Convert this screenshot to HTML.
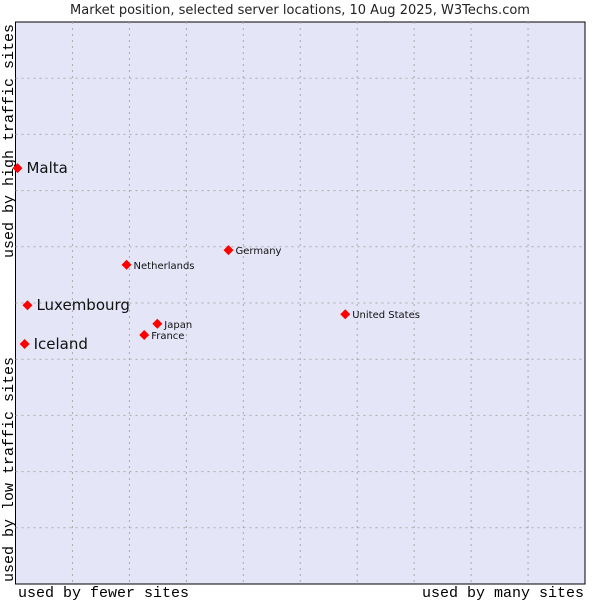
<!DOCTYPE html>
<html><head><meta charset="utf-8"><style>
body{margin:0;background:#fff;width:600px;height:600px;overflow:hidden}
text{font-family:"DejaVu Sans","Liberation Sans",sans-serif}
.mono{font-family:"Liberation Mono","DejaVu Sans Mono",monospace}
</style></head><body>
<svg id="c" width="600" height="600">
<text x="300" y="14" text-anchor="middle" font-size="13" fill="#222">Market position, selected server locations, 10 Aug 2025, W3Techs.com</text>
<rect x="15.5" y="22" width="569.5" height="562" fill="#e5e5f8" stroke="#000" stroke-width="1"/>
<g id="grid"></g>
<g id="pts"></g>
<text class="mono" x="18" y="597" font-size="15" fill="#000">used by fewer sites</text>
<text class="mono" x="584" y="597" font-size="15" fill="#000" text-anchor="end">used by many sites</text>
<text class="mono" transform="translate(13,582) rotate(-90)" font-size="15" fill="#000">used by low traffic sites</text>
<text class="mono" transform="translate(13,24) rotate(-90)" font-size="15" fill="#000" text-anchor="end">used by high traffic sites</text>
</svg>
<script>
const names=["Malta","Luxembourg","Iceland","Netherlands","Germany","Japan","France","United States"];
const xs=[0.35,2.1,1.6,19.5,37.4,24.9,22.6,57.9];
const ys=[74.0,49.6,42.7,56.8,59.4,46.3,44.3,48.0];
const big=[true,true,true,false,false,false,false,false];
const L=15.5,R=585,T=22,B=584;
const sx=v=>L+v/100*(R-L), sy=v=>B-v/100*(B-T);
const NS="http://www.w3.org/2000/svg";
const g=document.getElementById('grid'),p=document.getElementById('pts');
for(let i=1;i<10;i++){
 let l=document.createElementNS(NS,'line');
 
 
 let x=sx(i*10);l.setAttribute('x1',x);l.setAttribute('x2',x);l.setAttribute('y1',T);l.setAttribute('y2',B);
 l.setAttribute('stroke','#aaa');l.setAttribute('stroke-dasharray','2,4');g.appendChild(l);
 let h=document.createElementNS(NS,'line');
 
 
 let y=sy(i*10);h.setAttribute('y1',y);h.setAttribute('y2',y);h.setAttribute('x1',L);h.setAttribute('x2',R);
 h.setAttribute('stroke','#aaa');h.setAttribute('stroke-dasharray','2,4');g.appendChild(h);
}
names.forEach((n,i)=>{
 const x=sx(xs[i]),y=sy(ys[i]);
 let d=document.createElementNS(NS,'polygon');
 
 
 d.setAttribute('points',`${x},${y-5} ${x+5},${y} ${x},${y+5} ${x-5},${y}`);
 d.setAttribute('fill','#f00');p.appendChild(d);
 let t=document.createElementNS(NS,'text');
 
 
 t.setAttribute('x',x+(big[i]?9:7));t.setAttribute('y',y+(big[i]?5:4));
 t.setAttribute('font-size',big[i]?15:10);t.setAttribute('fill','#111');
 t.textContent=n;p.appendChild(t);
});
</script>
</body></html>
